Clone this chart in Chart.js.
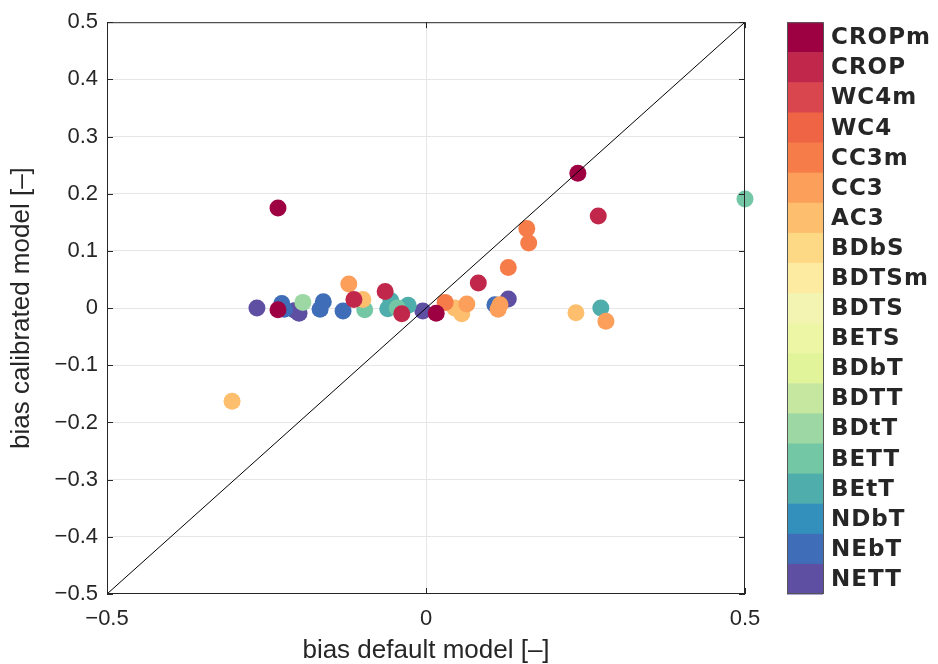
<!DOCTYPE html>
<html>
<head>
<meta charset="utf-8">
<script src="https://cdn.jsdelivr.net/npm/chart.js@4"></script>
<style>
  body { margin: 0; background: #fff; }
</style>
</head>
<body>
<canvas id="chart" width="938" height="664"></canvas>
<script>
// classes as listed in the colour bar, top to bottom
const classNames = ['CROPm', 'CROP', 'WC4m', 'WC4', 'CC3m', 'CC3', 'AC3', 'BDbS', 'BDTSm', 'BDTS',
                    'BETS', 'BDbT', 'BDTT', 'BDtT', 'BETT', 'BEtT', 'NDbT', 'NEbT', 'NETT'];
const classColors = ['#9e0142', '#c1274a', '#da464d', '#ee6445', '#f67d4a', '#fb9f5a', '#fdbe6e', '#fed985',
                     '#fcebA0', '#f3f4b2', '#ecf6a4', '#e2f49a', '#c5e7a0', '#9dd7a4', '#74c7a5', '#4faeab',
                     '#3390bc', '#3f6db7', '#5e4fa2'];

// points, in drawing order (index into classNames)
const biasDefault = [
  -0.265, -0.205, -0.199, -0.005, 0.129,
  0.108, -0.226, -0.222, -0.161, -0.166, -0.130,
  0.274, -0.060, -0.055, -0.028,
  0.500, -0.096, -0.045,
  -0.193,
  -0.304, -0.099, 0.045, 0.056, 0.235,
  -0.121, 0.064, 0.113, 0.116, 0.282,
  0.158, 0.161, 0.129, 0.030,
  0.270, 0.082, -0.113, -0.064, -0.038,
  -0.232, 0.238, -0.232, 0.016
];
const biasCalibrated = [
  0.000, -0.004, -0.009, -0.005, 0.016,
  0.006, 0.008, -0.002, 0.011, -0.002, -0.005,
  0.000, -0.001, 0.013, 0.005,
  0.191, -0.003, 0.000,
  0.010,
  -0.163, 0.015, 0.000, -0.010, -0.008,
  0.042, 0.007, -0.002, 0.006, -0.023,
  0.139, 0.114, 0.071, 0.010,
  0.161, 0.044, 0.015, 0.029, -0.010,
  0.175, 0.236, -0.003, -0.009
];
const pointClass = [
  18, 18, 18, 18, 18,
  17, 17, 17, 17, 17, 17,
  15, 15, 15, 15,
  14, 14, 14,
  13,
  6, 6, 6, 6, 6,
  5, 5, 5, 5, 5,
  4, 4, 4, 4,
  1, 1, 1, 1, 1,
  0, 0, 0, 0
];

const xTickValues = [-0.5, 0, 0.5];
const yTickValues = [-0.5, -0.4, -0.3, -0.2, -0.1, 0, 0.1, 0.2, 0.3, 0.4, 0.5];
const oneToOne = [-0.5, 0.5];

const axisColor = '#262626';
const gridColor = '#e6e6e6';

function fmt(v) {
  if (Math.abs(v) < 1e-9) return '0';
  return v.toFixed(1).replace('-', '\u2212');
}

// box round the axes, inward tick marks and the colour bar
const framePlugin = {
  id: 'frame',
  afterDraw(chart) {
    const ctx = chart.ctx;
    const a = chart.chartArea;
    const xs = chart.scales.x, ys = chart.scales.y;
    ctx.save();
    ctx.strokeStyle = axisColor;
    ctx.lineWidth = 1;
    ctx.strokeRect(a.left + 0.5, a.top + 0.5, a.right - a.left - 1, a.bottom - a.top - 1);
    ctx.beginPath();
    yTickValues.forEach(v => {
      const p = Math.round(ys.getPixelForValue(v)) + 0.5;
      ctx.moveTo(a.left, p); ctx.lineTo(a.left + 6, p);
      ctx.moveTo(a.right, p); ctx.lineTo(a.right - 6, p);
    });
    xTickValues.forEach(v => {
      const p = Math.round(xs.getPixelForValue(v)) + 0.5;
      ctx.moveTo(p, a.bottom); ctx.lineTo(p, a.bottom - 6);
      ctx.moveTo(p, a.top); ctx.lineTo(p, a.top + 6);
    });
    ctx.stroke();

    // colour bar
    const barLeft = a.right + 42, barWidth = 36;
    const n = classNames.length;
    const h = (a.bottom - a.top) / n;
    for (let i = 0; i < n; i++) {
      ctx.fillStyle = classColors[i];
      ctx.fillRect(barLeft, a.top + i * h, barWidth, h + 0.5);
    }
    ctx.strokeStyle = '#555';
    ctx.strokeRect(barLeft + 0.5, a.top + 0.5, barWidth, a.bottom - a.top - 1);
    ctx.fillStyle = axisColor;
    ctx.font = 'bold 23px "DejaVu Sans"';
    ctx.letterSpacing = '1px';
    ctx.textBaseline = 'middle';
    ctx.textAlign = 'left';
    for (let i = 0; i < n; i++) {
      ctx.fillText(classNames[i], barLeft + barWidth + 8, a.top + (i + 0.5) * h + 1);
    }
    ctx.restore();
  }
};

const points = biasDefault.map((x, i) => ({ x: x, y: biasCalibrated[i] }));

new Chart(document.getElementById('chart'), {
  type: 'scatter',
  data: {
    datasets: [
      {
        type: 'line',
        data: oneToOne.map(v => ({ x: v, y: v })),
        borderColor: '#000',
        borderWidth: 1,
        pointRadius: 0,
        fill: false,
        order: 0
      },
      {
        data: points,
        pointBackgroundColor: pointClass.map(c => classColors[c]),
        pointBorderWidth: 0,
        pointRadius: 8.5,
        clip: false,
        order: 1
      }
    ]
  },
  options: {
    responsive: false,
    animation: false,
    events: [],
    layout: { padding: { top: 4, right: 193, left: 0, bottom: 0 } },
    plugins: { legend: { display: false }, tooltip: { enabled: false } },
    scales: {
      x: {
        type: 'linear',
        min: -0.5,
        max: 0.5,
        afterFit: s => { s.height = 70; },
        afterBuildTicks: s => { s.ticks = xTickValues.map(v => ({ value: v })); },
        ticks: { color: axisColor, font: { family: 'Liberation Sans', size: 22 }, padding: 12, callback: fmt },
        grid: { color: c => (c.tick && c.tick.value === 0 ? gridColor : 'rgba(0,0,0,0)'), drawTicks: false },
        border: { display: false },
        title: {
          display: true,
          text: 'bias default model [\u2013]',
          color: axisColor,
          font: { family: 'Liberation Sans', size: 26, lineHeight: 1 },
          padding: { top: 0, bottom: 0 }
        }
      },
      y: {
        type: 'linear',
        min: -0.5,
        max: 0.5,
        afterFit: s => { s.width = 107; },
        afterBuildTicks: s => { s.ticks = yTickValues.map(v => ({ value: v })); },
        ticks: { color: axisColor, font: { family: 'Liberation Sans', size: 22 }, padding: 9, callback: fmt },
        grid: { color: c => (c.tick && Math.abs(c.tick.value) < 0.45 ? gridColor : 'rgba(0,0,0,0)'), drawTicks: false },
        border: { display: false },
        title: {
          display: true,
          text: 'bias calibrated model [\u2013]',
          color: axisColor,
          font: { family: 'Liberation Sans', size: 26, lineHeight: 1 },
          padding: { top: 9, bottom: 0 }
        }
      }
    }
  },
  plugins: [framePlugin]
});
</script>
</body>
</html>
